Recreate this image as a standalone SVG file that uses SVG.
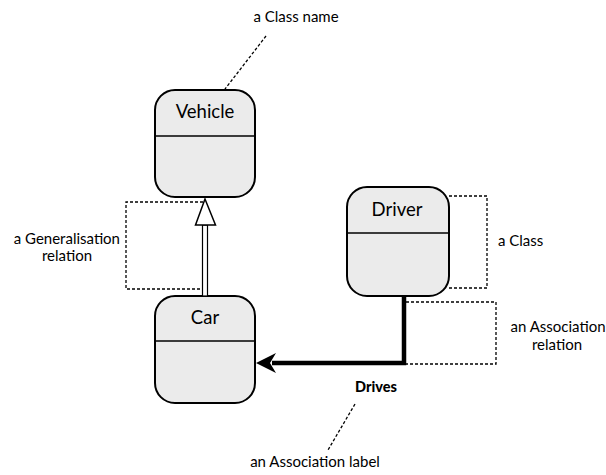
<svg xmlns="http://www.w3.org/2000/svg" width="606" height="475" viewBox="0 0 606 475">
<defs>
<style>
.box{fill:#ebebeb;stroke:#000;stroke-width:2}
.div{stroke:#000;stroke-width:1.3;fill:none}
.name{font-family:Lato,"Open Sans",sans-serif;font-size:18.5px;fill:#000;text-anchor:middle}
.note{font-family:Lato,"Open Sans",sans-serif;font-size:15px;fill:#000}
.dot{fill:none;stroke:#000;stroke-width:1.3;stroke-dasharray:3 2}
</style>
</defs>
<rect width="606" height="475" fill="#fff"/>
<g id="notes">
<text class="note" x="296" y="22" text-anchor="middle">a Class name</text>
<line class="dot" x1="266" y1="36" x2="215" y2="102"/>
<text class="note" x="120" y="244" text-anchor="end">a Generalisation</text>
<text class="note" x="67" y="261" text-anchor="middle">relation</text>
<polyline class="dot" points="203,202 126,202 126,289 203,289"/>
<text class="note" x="498" y="246">a Class</text>
<polyline class="dot" points="449,196 487,196 487,288 449,288"/>
<text class="note" x="558" y="332" text-anchor="middle">an Association</text>
<text class="note" x="557" y="350" text-anchor="middle">relation</text>
<polyline class="dot" points="406,302 496,302 496,364 406,364"/>
<text class="note" x="315" y="467" text-anchor="middle">an Association label</text>
<line class="dot" x1="355" y1="404" x2="328" y2="450"/>
</g>
<g id="vehicle">
<rect class="box" x="155" y="90" width="100" height="107" rx="20"/>
<line class="div" x1="155" y1="136" x2="255" y2="136"/>
<text class="name" x="205" y="118">Vehicle</text>
</g>
<g id="driver">
<rect class="box" x="347" y="187" width="102" height="109" rx="20"/>
<line class="div" x1="347" y1="233" x2="449" y2="233"/>
<text class="name" x="397" y="216">Driver</text>
</g>
<g id="car">
<rect class="box" x="155" y="296" width="100" height="107" rx="20"/>
<line class="div" x1="155" y1="341" x2="255" y2="341"/>
<text class="name" x="205" y="324">Car</text>
</g>
<g id="connectors">
<rect x="202.5" y="225" width="5" height="71" fill="#fff" stroke="#000" stroke-width="1.2"/>
<polygon points="205,199 195.5,225 215.5,225" fill="#fff" stroke="#000" stroke-width="1.5"/>
<polyline points="404,296 404,363 272,363" fill="none" stroke="#000" stroke-width="4.5"/>
<polygon points="256,363 276,353 270,363 276,373" fill="#000"/>
<text x="376" y="392" font-family="Lato,'Open Sans',sans-serif" font-size="14.5" font-weight="900" text-anchor="middle">Drives</text>
</g>
</svg>
